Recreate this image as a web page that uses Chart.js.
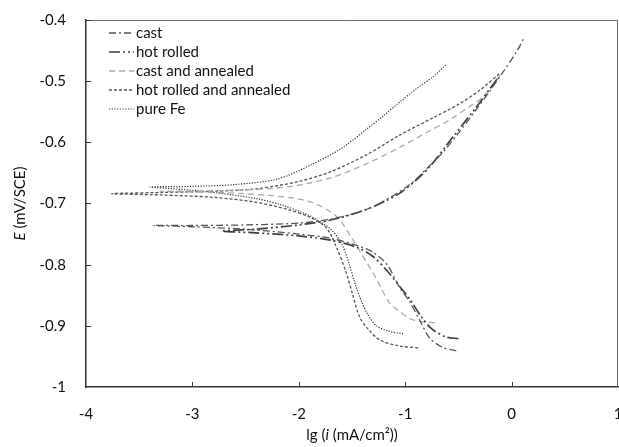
<!DOCTYPE html>
<html>
<head>
<meta charset="utf-8">
<script src="https://cdn.jsdelivr.net/npm/chart.js@4"></script>
<style>
  html, body { margin: 0; padding: 0; background: #fff; }
  #wrap { width: 619px; height: 447px; }
</style>
</head>
<body>
<div id="wrap"><canvas id="tafel" width="619" height="447"></canvas></div>
<script>
// series labels
const seriesLabels = ['cast', 'hot rolled', 'cast and annealed', 'hot rolled and annealed', 'pure Fe'];

// lg(i), cathodic end -> Ecorr -> anodic end
const castX = [-0.52, -0.65, -0.77, -0.86, -0.96, -1.05, -1.17, -1.3, -1.43, -1.7, -2.0, -2.5, -3.0, -3.37,
               -3.0, -2.5, -2.0, -1.68, -1.4, -1.21, -0.95, -0.78, -0.64, -0.5, -0.36, -0.2, -0.08, 0.05, 0.12];
const castY = [-0.941, -0.935, -0.92, -0.892, -0.86, -0.838, -0.80, -0.78, -0.77, -0.757, -0.75, -0.742, -0.738, -0.736,
               -0.736, -0.735, -0.732, -0.725, -0.712, -0.697, -0.668, -0.64, -0.615, -0.585, -0.553, -0.515, -0.485, -0.451, -0.428];

const hotRolledX = [-0.5, -0.62, -0.75, -0.85, -0.95, -1.05, -1.17, -1.3, -1.45, -1.7, -2.0, -2.4, -2.72,
                    -2.4, -2.0, -1.7, -1.4, -1.2, -1.05, -0.9, -0.77, -0.55, -0.33, -0.21, -0.13];
const hotRolledY = [-0.921, -0.918, -0.905, -0.885, -0.858, -0.836, -0.81, -0.787, -0.772, -0.76, -0.753, -0.748, -0.745,
                    -0.742, -0.735, -0.727, -0.712, -0.697, -0.683, -0.662, -0.64, -0.591, -0.542, -0.514, -0.495];

const castAnnX = [-0.72, -0.85, -0.96, -1.08, -1.15, -1.22, -1.28, -1.36, -1.49, -1.64, -1.85, -2.06, -2.5, -3.0, -3.3,
                  -2.8, -2.3, -2.0, -1.68, -1.35, -1.05, -0.8, -0.58, -0.4, -0.27, -0.11];
const castAnnY = [-0.895, -0.893, -0.888, -0.873, -0.862, -0.84, -0.82, -0.797, -0.76, -0.722, -0.70, -0.691, -0.684, -0.681, -0.68,
                  -0.679, -0.676, -0.67, -0.657, -0.634, -0.608, -0.584, -0.563, -0.542, -0.526, -0.49];

const hotAnnX = [-0.88, -1.05, -1.24, -1.35, -1.43, -1.5, -1.56, -1.65, -1.74, -1.9, -2.1, -2.4, -2.8, -3.3, -3.76,
                 -3.3, -2.8, -2.4, -2.0, -1.7, -1.36, -1.05, -0.74, -0.5, -0.3, -0.11];
const hotAnnY = [-0.936, -0.933, -0.923, -0.905, -0.885, -0.845, -0.81, -0.77, -0.74, -0.722, -0.71, -0.698, -0.69, -0.686, -0.684,
                 -0.682, -0.68, -0.676, -0.664, -0.648, -0.62, -0.588, -0.56, -0.538, -0.515, -0.487];

const pureFeX = [-1.02, -1.15, -1.27, -1.35, -1.41, -1.47, -1.53, -1.6, -1.7, -1.9, -2.15, -2.4, -2.8, -3.1, -3.4,
                 -3.0, -2.6, -2.2, -1.9, -1.6, -1.36, -1.2, -1.05, -0.9, -0.74, -0.62];
const pureFeY = [-0.913, -0.909, -0.90, -0.882, -0.86, -0.832, -0.797, -0.765, -0.742, -0.72, -0.703, -0.692, -0.682, -0.677, -0.673,
                 -0.672, -0.669, -0.66, -0.638, -0.61, -0.578, -0.556, -0.534, -0.513, -0.493, -0.474];

const xTicks = [-4, -3, -2, -1, 0, 1];
const yTicks = [-1, -0.9, -0.8, -0.7, -0.6, -0.5, -0.4];

const FONT = 'Lato, "Open Sans", sans-serif';

const toPoints = (xs, ys) => xs.map((x, i) => ({ x: x, y: ys[i] }));

const styles = [
    { color: '#555', width: 1.3, dash: [7, 3, 2, 3] },
    { color: '#404040', width: 1.7, dash: [11, 3, 2, 3, 2, 3] },
    { color: '#aaa', width: 1.3, dash: [6, 4] },
    { color: '#555', width: 1.3, dash: [3, 2] },
    { color: '#333', width: 1.2, dash: [1.2, 1.5] }
];
const seriesData = [
    toPoints(castX, castY),
    toPoints(hotRolledX, hotRolledY),
    toPoints(castAnnX, castAnnY),
    toPoints(hotAnnX, hotAnnY),
    toPoints(pureFeX, pureFeY)
];

// frame, inner ticks, legend and axis titles (mixed italic)
const decorPlugin = {
    id: 'decor',
    afterDraw(chart) {
        const ctx = chart.ctx;
        const a = chart.chartArea;
        const sx = chart.scales.x, sy = chart.scales.y;
        ctx.save();
        // top/right frame
        ctx.strokeStyle = '#666';
        ctx.lineWidth = 1;
        ctx.beginPath();
        ctx.moveTo(a.left, a.top + 0.5);
        ctx.lineTo(a.right - 0.5, a.top + 0.5);
        ctx.lineTo(a.right - 0.5, a.bottom);
        ctx.stroke();

        // inward tick marks
        ctx.strokeStyle = '#333';
        ctx.beginPath();
        xTicks.slice(1, -1).forEach(v => {
            const px = Math.round(sx.getPixelForValue(v)) + 0.5;
            ctx.moveTo(px, a.bottom);
            ctx.lineTo(px, a.bottom - 5);
        });
        yTicks.slice(1).forEach(v => {
            const py = Math.round(sy.getPixelForValue(v)) + 0.5;
            ctx.moveTo(a.left, py);
            ctx.lineTo(a.left + 5, py);
        });
        ctx.stroke();

        // legend
        ctx.font = '15px ' + FONT;
        ctx.textBaseline = 'middle';
        ctx.fillStyle = '#111';
        chart.data.datasets.forEach((ds, i) => {
            const y = 33 + i * 19;
            ctx.strokeStyle = ds.borderColor;
            ctx.lineWidth = ds.borderWidth;
            ctx.setLineDash(ds.borderDash);
            ctx.beginPath();
            ctx.moveTo(109, y);
            ctx.lineTo(134, y);
            ctx.stroke();
            ctx.setLineDash([]);
            ctx.fillText(ds.label, 136, y);
        });

        // x title
        const parts = [['lg (', false], ['i', true], [' (mA/cm²))', false]];
        const fontOf = it => (it ? 'italic ' : '') + '15px ' + FONT;
        let total = 0;
        parts.forEach(p => { ctx.font = fontOf(p[1]); total += ctx.measureText(p[0]).width; });
        let x = (a.left + a.right) / 2 - total / 2;
        ctx.textAlign = 'left';
        parts.forEach(p => {
            ctx.font = fontOf(p[1]);
            ctx.fillText(p[0], x, 435);
            x += ctx.measureText(p[0]).width;
        });

        // y title
        const yparts = [['E', true], [' (mV/SCE)', false]];
        total = 0;
        yparts.forEach(p => { ctx.font = fontOf(p[1]); total += ctx.measureText(p[0]).width; });
        ctx.translate(20, (a.top + a.bottom) / 2);
        ctx.rotate(-Math.PI / 2);
        x = -total / 2;
        yparts.forEach(p => {
            ctx.font = fontOf(p[1]);
            ctx.fillText(p[0], x, 0);
            x += ctx.measureText(p[0]).width;
        });
        ctx.restore();
    }
};

new Chart(document.getElementById('tafel'), {
    type: 'scatter',
    data: {
        datasets: seriesLabels.map((label, i) => ({
            label: label,
            data: seriesData[i],
            showLine: true,
            borderColor: styles[i].color,
            borderWidth: styles[i].width,
            borderDash: styles[i].dash,
            pointRadius: 0,
            pointHoverRadius: 0,
            tension: 0.3,
            fill: false
        }))
    },
    options: {
        responsive: false,
        animation: false,
        events: [],
        layout: { autoPadding: false, padding: { left: 10, top: 20, right: 1, bottom: 10 } },
        plugins: {
            legend: { display: false },
            tooltip: { enabled: false }
        },
        scales: {
            x: {
                type: 'linear',
                min: -4, max: 1,
                afterBuildTicks: s => { s.ticks = xTicks.map(v => ({ value: v })); },
                afterFit: s => { s.height = 50; s.paddingLeft = 0; s.paddingRight = 0; },
                border: { color: '#333', width: 1.5 },
                grid: { display: false },
                ticks: { padding: 10, color: '#111', font: { family: FONT, size: 15 },
                         callback: v => String(v) }
            },
            y: {
                type: 'linear',
                min: -1, max: -0.4,
                afterBuildTicks: s => { s.ticks = yTicks.map(v => ({ value: v })); },
                afterFit: s => { s.width = 76; s.paddingTop = 0; s.paddingBottom = 0; },
                border: { color: '#333', width: 1.5 },
                grid: { display: false },
                ticks: { padding: 12, color: '#111', font: { family: FONT, size: 15 },
                         callback: v => String(Number(v.toFixed(1))) }
            }
        }
    },
    plugins: [decorPlugin]
});
</script>
</body>
</html>
